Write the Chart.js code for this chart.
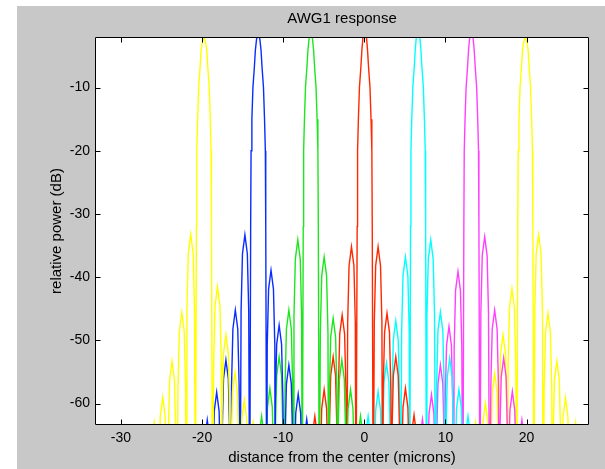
<!DOCTYPE html>
<html>
<head>
<meta charset="utf-8">
<script src="https://cdn.jsdelivr.net/npm/chart.js@4.4.0/dist/chart.umd.min.js"></script>
<style>
  html, body { margin: 0; padding: 0; background: #fff; }
  #wrap { width: 605px; height: 469px; }
</style>
</head>
<body>
<div id="wrap"><canvas id="awg" width="605" height="469"></canvas></div>
<script>
// axis limits and tick labels
const xMin = -33.2, xMax = 27.7;
const yMin = -63.4, yMax = -2.0;
const xTicks = [-30, -20, -10, 0, 10, 20];
const yTicks = [-60, -50, -40, -30, -20, -10];

// response of each output channel: [distance (microns), relative power (dB)]
const yellowLeft = [
  [-26.45,-80], [-26.37,-75], [-26.2,-66], [-25.9,-63], [-25.6,-66], [-25.43,-75],
  [-25.38,-80], [-25.32,-71], [-25.15,-62], [-24.85,-59], [-24.55,-62], [-24.38,-71],
  [-24.28,-80], [-24.17,-65.3], [-24.0,-56.3], [-23.7,-53.3], [-23.4,-56.3], [-23.23,-65.3],
  [-23.1,-80], [-22.97,-57.6], [-22.8,-48.6], [-22.5,-45.6], [-22.2,-48.6], [-22.03,-57.6],
  [-21.95,-80], [-21.87,-45.2], [-21.7,-36.2], [-21.4,-33.2], [-21.1,-36.2], [-20.93,-45.2],
  [-20.82,-80], [-20.7,-32], [-20.65,-20], [-20.55,-15], [-20.42,-10], [-20.24,-6.7], [-20.12,-4.1],
  [-19.97,-2.8], [-19.77,-2.0], [-19.57,-2.8], [-19.42,-4.1], [-19.3,-6.7], [-19.12,-10],
  [-18.99,-15], [-18.89,-20], [-18.84,-32],
  [-18.72,-80], [-18.57,-53.5], [-18.4,-44.5], [-18.1,-41.5], [-17.8,-44.5], [-17.63,-53.5],
  [-17.58,-80], [-17.53,-61.1], [-17.36,-52.1], [-17.06,-49.1], [-16.76,-52.1], [-16.59,-61.1],
  [-16.5,-80], [-16.42,-67.1], [-16.25,-58.1], [-15.95,-55.1], [-15.65,-58.1], [-15.48,-67.1],
  [-15.38,-80], [-15.27,-71.4], [-15.1,-62.4], [-14.8,-59.4], [-14.5,-62.4], [-14.33,-71.4],
  [-14.25,-80], [-14.17,-75], [-14.0,-66], [-13.7,-63], [-13.4,-66], [-13.23,-75],
  [-13.15,-80]
];

const blue = [
  [-19.93,-80], [-19.83,-74.6], [-19.66,-65.6], [-19.36,-62.6], [-19.06,-65.6], [-18.89,-74.6],
  [-18.78,-80], [-18.67,-70.2], [-18.5,-61.2], [-18.2,-58.2], [-17.9,-61.2], [-17.73,-70.2],
  [-17.63,-80], [-17.53,-65.1], [-17.36,-56.1], [-17.06,-53.1], [-16.76,-56.1], [-16.59,-65.1],
  [-16.48,-80], [-16.37,-57.2], [-16.2,-48.2], [-15.9,-45.2], [-15.6,-48.2], [-15.43,-57.2],
  [-15.31,-80], [-15.19,-45.3], [-15.02,-36.3], [-14.72,-33.3], [-14.42,-36.3], [-14.25,-45.3],
  [-14.13,-80], [-14.01,-32], [-13.96,-20], [-13.86,-15], [-13.73,-10], [-13.55,-6.7], [-13.43,-4.1],
  [-13.28,-2.3], [-13.08,-1.6], [-12.88,-2.3], [-12.73,-4.1], [-12.61,-6.7], [-12.43,-10],
  [-12.3,-15], [-12.2,-20], [-12.15,-32],
  [-12.03,-80], [-11.97,-50.9], [-11.8,-41.9], [-11.5,-38.9], [-11.2,-41.9], [-11.03,-50.9],
  [-11.0,-80], [-10.97,-59.6], [-10.8,-50.6], [-10.5,-47.6], [-10.2,-50.6], [-10.03,-59.6],
  [-9.9,-80], [-9.77,-65.9], [-9.6,-56.9], [-9.3,-53.9], [-9.0,-56.9], [-8.83,-65.9],
  [-8.73,-80], [-8.62,-70.5], [-8.45,-61.5], [-8.15,-58.5], [-7.85,-61.5], [-7.68,-70.5],
  [-7.63,-80], [-7.57,-74.5], [-7.4,-65.5], [-7.1,-62.5], [-6.8,-65.5], [-6.63,-74.5],
  [-6.55,-80]
];

const green = [
  [-13.2,-80], [-13.13,-74], [-12.96,-65], [-12.66,-62], [-12.36,-65], [-12.19,-74],
  [-12.15,-80], [-12.11,-69.6], [-11.94,-60.6], [-11.64,-57.6], [-11.34,-60.6], [-11.17,-69.6],
  [-11.07,-80], [-10.97,-64.6], [-10.8,-55.6], [-10.5,-52.6], [-10.2,-55.6], [-10.03,-64.6],
  [-9.9,-80], [-9.77,-57.2], [-9.6,-48.2], [-9.3,-45.2], [-9.0,-48.2], [-8.83,-57.2],
  [-8.75,-80], [-8.67,-46.1], [-8.5,-37.1], [-8.2,-34.1], [-7.9,-37.1], [-7.73,-46.1],
  [-7.65,-80], [-7.53,-32], [-7.48,-20], [-7.38,-15], [-7.25,-10], [-7.07,-6.7], [-6.95,-4.1],
  [-6.8,-2.2], [-6.6,-1.5], [-6.4,-2.2], [-6.25,-4.1], [-6.13,-6.7], [-5.95,-10],
  [-5.82,-15], [-5.72,-20], [-5.67,-32],
  [-5.55,-80], [-5.42,-48.8], [-5.25,-39.8], [-4.95,-36.8], [-4.65,-39.8], [-4.48,-48.8],
  [-4.4,-80], [-4.31,-58.5], [-4.14,-49.5], [-3.84,-46.5], [-3.54,-49.5], [-3.37,-58.5],
  [-3.3,-80], [-3.24,-65.1], [-3.07,-56.1], [-2.77,-53.1], [-2.47,-56.1], [-2.3,-65.1],
  [-2.24,-80], [-2.17,-69.8], [-2.0,-60.8], [-1.7,-57.8], [-1.4,-60.8], [-1.23,-69.8],
  [-1.1,-80], [-0.94,-74], [-0.77,-65], [-0.47,-62], [-0.17,-65], [0.0,-74],
  [0.1,-80]
];

const red = [
  [-6.65,-80], [-6.57,-74], [-6.4,-65], [-6.1,-62], [-5.8,-65], [-5.63,-74],
  [-5.53,-80], [-5.42,-69.8], [-5.25,-60.8], [-4.95,-57.8], [-4.65,-60.8], [-4.48,-69.8],
  [-4.4,-80], [-4.31,-64.6], [-4.14,-55.6], [-3.84,-52.6], [-3.54,-55.6], [-3.37,-64.6],
  [-3.29,-80], [-3.2,-58], [-3.03,-49], [-2.73,-46], [-2.43,-49], [-2.26,-58],
  [-2.16,-80], [-2.05,-47.2], [-1.88,-38.2], [-1.58,-35.2], [-1.28,-38.2], [-1.11,-47.2],
  [-1.03,-80], [-0.88,-32], [-0.83,-20], [-0.73,-15], [-0.6,-10], [-0.42,-6.7], [-0.3,-4.1],
  [-0.15,-1.8], [0.05,-1.0], [0.25,-1.8], [0.4,-4.1], [0.52,-6.7], [0.7,-10],
  [0.83,-15], [0.93,-20], [0.98,-32],
  [1.1,-80], [1.23,-47.2], [1.4,-38.2], [1.7,-35.2], [2.0,-38.2], [2.17,-47.2],
  [2.25,-80], [2.33,-57.7], [2.5,-48.7], [2.8,-45.7], [3.1,-48.7], [3.27,-57.7],
  [3.34,-80], [3.41,-64.6], [3.58,-55.6], [3.88,-52.6], [4.18,-55.6], [4.35,-64.6],
  [4.48,-80], [4.6,-69.6], [4.77,-60.6], [5.07,-57.6], [5.37,-60.6], [5.54,-69.6],
  [5.6,-80], [5.66,-73.8], [5.83,-64.8], [6.13,-61.8], [6.43,-64.8], [6.6,-73.8],
  [6.68,-80]
];

const cyan = [
  [-0.1,-80], [0.0,-74], [0.17,-65], [0.47,-62], [0.77,-65], [0.94,-74],
  [1.08,-80], [1.23,-70.1], [1.4,-61.1], [1.7,-58.1], [2.0,-61.1], [2.17,-70.1],
  [2.22,-80], [2.26,-65.6], [2.43,-56.6], [2.73,-53.6], [3.03,-56.6], [3.2,-65.6],
  [3.3,-80], [3.41,-58.9], [3.58,-49.9], [3.88,-46.9], [4.18,-49.9], [4.35,-58.9],
  [4.47,-80], [4.6,-48.8], [4.77,-39.8], [5.07,-36.8], [5.37,-39.8], [5.54,-48.8],
  [5.6,-80], [5.7,-32], [5.75,-20], [5.85,-15], [5.98,-10], [6.16,-6.7], [6.28,-4.1],
  [6.43,-1.7], [6.63,-1.0], [6.83,-1.7], [6.98,-4.1], [7.1,-6.7], [7.28,-10],
  [7.41,-15], [7.51,-20], [7.56,-32],
  [7.66,-80], [7.72,-46.1], [7.89,-37.1], [8.19,-34.1], [8.49,-37.1], [8.66,-46.1],
  [8.78,-80], [8.91,-57.5], [9.08,-48.5], [9.38,-45.5], [9.68,-48.5], [9.85,-57.5],
  [9.95,-80], [10.06,-64.8], [10.23,-55.8], [10.53,-52.8], [10.83,-55.8], [11.0,-64.8],
  [11.1,-80], [11.2,-69.8], [11.37,-60.8], [11.67,-57.8], [11.97,-60.8], [12.14,-69.8],
  [12.22,-80], [12.31,-74], [12.48,-65], [12.78,-62], [13.08,-65], [13.25,-74],
  [13.35,-80]
];

const magenta = [
  [6.62,-80], [6.7,-74.5], [6.87,-65.5], [7.17,-62.5], [7.47,-65.5], [7.64,-74.5],
  [7.72,-80], [7.81,-70.6], [7.98,-61.6], [8.28,-58.6], [8.58,-61.6], [8.75,-70.6],
  [8.83,-80], [8.91,-65.9], [9.08,-56.9], [9.38,-53.9], [9.68,-56.9], [9.85,-65.9],
  [9.91,-80], [9.97,-59.8], [10.14,-50.8], [10.44,-47.8], [10.74,-50.8], [10.91,-59.8],
  [11.0,-80], [11.08,-51.1], [11.25,-42.1], [11.55,-39.1], [11.85,-42.1], [12.02,-51.1],
  [12.15,-80], [12.27,-32], [12.32,-20], [12.42,-15], [12.55,-10], [12.73,-6.7], [12.85,-4.1],
  [13.0,-2.0], [13.2,-1.3], [13.4,-2.0], [13.55,-4.1], [13.67,-6.7], [13.85,-10],
  [13.98,-15], [14.08,-20], [14.13,-32],
  [14.25,-80], [14.37,-45.6], [14.54,-36.6], [14.84,-33.6], [15.14,-36.6], [15.31,-45.6],
  [15.45,-80], [15.6,-57.2], [15.77,-48.2], [16.07,-45.2], [16.37,-48.2], [16.54,-57.2],
  [16.62,-80], [16.71,-64.8], [16.88,-55.8], [17.18,-52.8], [17.48,-55.8], [17.65,-64.8],
  [17.72,-80], [17.78,-70.1], [17.95,-61.1], [18.25,-58.1], [18.55,-61.1], [18.72,-70.1],
  [18.84,-80], [18.96,-74.6], [19.13,-65.6], [19.43,-62.6], [19.73,-65.6], [19.9,-74.6],
  [20.0,-80]
];

const yellowRight = [
  [13.18,-80], [13.26,-75], [13.43,-66], [13.73,-63], [14.03,-66], [14.2,-75],
  [14.33,-80], [14.46,-71.9], [14.63,-62.9], [14.93,-59.9], [15.23,-62.9], [15.4,-71.9],
  [15.5,-80], [15.6,-67.2], [15.77,-58.2], [16.07,-55.2], [16.37,-58.2], [16.54,-67.2],
  [16.58,-80], [16.63,-61.1], [16.8,-52.1], [17.1,-49.1], [17.4,-52.1], [17.57,-61.1],
  [17.65,-80], [17.73,-53.8], [17.9,-44.8], [18.2,-41.8], [18.5,-44.8], [18.67,-53.8],
  [18.8,-80], [18.92,-32], [18.97,-20], [19.07,-15], [19.2,-10], [19.38,-6.7], [19.5,-4.1],
  [19.65,-2.8], [19.85,-2.0], [20.05,-2.8], [20.2,-4.1], [20.32,-6.7], [20.5,-10],
  [20.63,-15], [20.73,-20], [20.78,-32],
  [20.9,-80], [21.02,-45.3], [21.19,-36.3], [21.49,-33.3], [21.79,-36.3], [21.96,-45.3],
  [22.06,-80], [22.17,-57.7], [22.34,-48.7], [22.64,-45.7], [22.94,-48.7], [23.11,-57.7],
  [23.19,-80], [23.27,-65.3], [23.44,-56.3], [23.74,-53.3], [24.04,-56.3], [24.21,-65.3],
  [24.27,-80], [24.33,-71.1], [24.5,-62.1], [24.8,-59.1], [25.1,-62.1], [25.27,-71.1],
  [25.42,-80], [25.58,-75], [25.75,-66], [26.05,-63], [26.35,-66], [26.52,-75],
  [26.6,-80]
];

const channels = [yellowLeft, blue, green, red, cyan, magenta, yellowRight];
const channelColors = ['#ffff00', '#0a2dff', '#1ee61e', '#ff2800', '#00ffff', '#ff40ff', '#ffff00'];

const fontFamily = '"Liberation Sans", Arial, Helvetica, sans-serif';

// MATLAB-like figure: grey frame, boxed axes, inward ticks on all four sides
const matlabFrame = {
  id: 'matlabFrame',
  beforeDraw(chart) {
    const { ctx, chartArea: a } = chart;
    ctx.save();
    ctx.fillStyle = '#c8c8c8';
    ctx.fillRect(17, 6, chart.width - 17, chart.height - 6);
    ctx.fillStyle = '#ffffff';
    ctx.fillRect(a.left, a.top, a.right - a.left, a.bottom - a.top);
    ctx.restore();
  },
  afterDatasetsDraw(chart) {
    const { ctx, chartArea: a, scales } = chart;
    const L = Math.round(a.left) + 0.5, R = Math.round(a.right) - 0.5;
    const T = Math.round(a.top) + 0.5, B = Math.round(a.bottom) - 0.5;
    const len = 5;
    ctx.save();
    ctx.strokeStyle = '#000';
    ctx.lineWidth = 1;
    ctx.beginPath();
    ctx.rect(L, T, R - L, B - T);
    xTicks.forEach(v => {
      const px = Math.round(scales.x.getPixelForValue(v)) + 0.5;
      ctx.moveTo(px, B); ctx.lineTo(px, B - len);
      ctx.moveTo(px, T); ctx.lineTo(px, T + len);
    });
    yTicks.forEach(v => {
      const py = Math.round(scales.y.getPixelForValue(v)) + 0.5;
      ctx.moveTo(L, py); ctx.lineTo(L + len, py);
      ctx.moveTo(R, py); ctx.lineTo(R - len, py);
    });
    ctx.stroke();
    ctx.restore();
  }
};

new Chart(document.getElementById('awg'), {
  type: 'line',
  data: {
    datasets: channels.map((pts, i) => ({
      data: pts.map(([x, y]) => ({ x, y })),
      borderColor: channelColors[i],
      borderWidth: 1.4,
      pointRadius: 0,
      tension: 0,
      fill: false
    }))
  },
  options: {
    responsive: false,
    animation: false,
    devicePixelRatio: 1,
    layout: { padding: { left: 0, top: 0, right: 16, bottom: 0 } },
    plugins: {
      legend: { display: false },
      tooltip: { enabled: false }
    },
    scales: {
      x: {
        type: 'linear',
        position: 'bottom',
        min: xMin,
        max: xMax,
        afterBuildTicks: s => { s.ticks = xTicks.map(v => ({ value: v })); },
        afterFit: s => { s.height = 44; },
        grid: { display: false, drawTicks: false },
        border: { display: false },
        ticks: { color: '#000', padding: 5, font: { family: fontFamily, size: 14 }, maxRotation: 0 },
        title: {
          display: true,
          text: 'distance from the center (microns)',
          color: '#000',
          font: { family: fontFamily, size: 15 },
          padding: { top: 0, bottom: 2 }
        }
      },
      x2: {
        type: 'linear',
        position: 'top',
        min: xMin,
        max: xMax,
        afterFit: s => { s.height = 37; },
        grid: { display: false, drawTicks: false },
        border: { display: false },
        ticks: { display: false },
        title: {
          display: true,
          text: 'AWG1 response',
          color: '#000',
          font: { family: fontFamily, size: 15 },
          padding: { top: 10, bottom: 0 }
        }
      },
      y: {
        type: 'linear',
        min: yMin,
        max: yMax,
        afterBuildTicks: s => { s.ticks = yTicks.map(v => ({ value: v })); },
        afterFit: s => { s.width = 95; },
        grid: { display: false, drawTicks: false },
        border: { display: false },
        ticks: { color: '#000', padding: 5, font: { family: fontFamily, size: 14 } },
        title: {
          display: true,
          text: 'relative power (dB)',
          color: '#000',
          font: { family: fontFamily, size: 15 },
          padding: { top: 48, bottom: 0 }
        }
      }
    }
  },
  plugins: [matlabFrame]
});
</script>
</body>
</html>
